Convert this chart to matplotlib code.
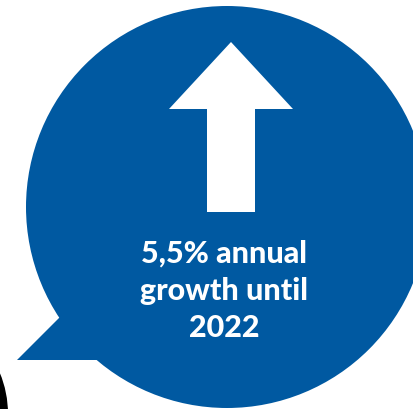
import matplotlib
matplotlib.use("Agg")
import matplotlib.pyplot as plt
from matplotlib.patches import Circle, Polygon

# Values shown in the bubble
growth_rate = "5,5%"
end_year = "2022"
label_lines = [f"{growth_rate} annual", "growth until", end_year]

blue = "#0059A1"

fig = plt.figure(figsize=(4.14, 4.10), dpi=100)
ax = fig.add_axes([0, 0, 1, 1])
ax.set_xlim(0, 414)
ax.set_ylim(410, 0)
ax.set_aspect("equal")
ax.axis("off")

# Black shape cut off in the bottom-left corner
ax.add_patch(Circle((-100, 415), 108, color="black", lw=0))

# Speech bubble: circle plus tail
ax.add_patch(Circle((227, 208), 201, color=blue, lw=0))
ax.add_patch(Polygon([(60, 318), (17, 361), (100, 361), (120, 330)],
                     closed=True, color=blue, lw=0))

# Up arrow
arrow = [(231, 43), (293, 110), (255, 110), (255, 213),
         (207, 213), (207, 110), (169, 110)]
ax.add_patch(Polygon(arrow, closed=True, color="white", lw=0))

# Label
for i, line in enumerate(label_lines):
    ax.text(224, 263 + i * 37, line, ha="center", va="baseline",
            color="white", fontsize=22, fontweight="black", family="Lato")

fig.savefig("out.png", dpi=100)
